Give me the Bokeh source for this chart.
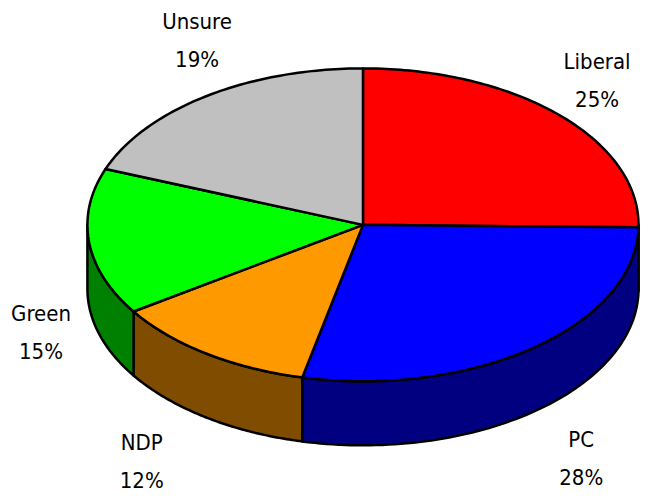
import numpy as np
from bokeh.plotting import figure
from bokeh.models import Range1d, ColumnDataSource
from bokeh.core.properties import value
from bokeh.embed import file_html
from bokeh.resources import INLINE

# ---- data ----
categories = ["Liberal", "PC", "NDP", "Green", "Unsure"]
shares = [25, 28, 12, 15, 19]
top_colors = ["#FF0000", "#0000FF", "#FF9900", "#00FF00", "#C0C0C0"]
side_colors = ["#800000", "#000080", "#804C00", "#008000", "#606060"]

# ---- layout (reference pixel units) ----
W, H = 641, 492            # figure size
VW, VH = 649, 500          # drawing coordinate extent
CX, CY, RX, RY, DEPTH = 367, 228, 279, 159, 65
label_pos = {"Liberal": (604, 62), "PC": (588, 446), "NDP": (143, 449),
             "Green": (41, 318), "Unsure": (199, 21)}
LINE_GAP = 39
FONT = "DejaVu Sans Condensed"

p = figure(width=W, height=H, output_backend="svg", toolbar_location=None,
           x_range=Range1d(0, VW), y_range=Range1d(VH, 0),
           min_border=0, outline_line_color=None)
p.axis.visible = False
p.grid.visible = False


def ell(t, dy=0.0):
    return CX + RX * np.cos(t), CY - RY * np.sin(t) + dy


total = float(sum(shares))
starts = []
ends = []
a = np.pi / 2
for v in shares:
    b = a - 2 * np.pi * v / total
    starts.append(a)
    ends.append(b)
    a = b

# side faces (front half: angles in [-pi, 0])
side_xs, side_ys, side_c = [], [], []
for a0, a1, c in zip(starts, ends, side_colors):
    hi = min(a0, 0.0)
    lo = max(a1, -np.pi)
    if hi <= lo:
        continue
    t = np.linspace(hi, lo, 80)
    x1, y1 = ell(t)
    x2, y2 = ell(t[::-1], DEPTH)
    side_xs.append(list(np.concatenate([x1, x2])))
    side_ys.append(list(np.concatenate([y1, y2])))
    side_c.append(c)
p.patches(side_xs, side_ys, fill_color=side_c, line_color="black", line_width=2.5,
          line_join="round")

# top slices
top_xs, top_ys = [], []
for a0, a1 in zip(starts, ends):
    n = max(8, int(abs(a0 - a1) * 60))
    t = np.linspace(a0, a1, n)
    x, y = ell(t)
    top_xs.append([CX] + list(x))
    top_ys.append([CY] + list(y))
p.patches(top_xs, top_ys, fill_color=top_colors, line_color="black", line_width=2.5,
          line_join="round")

# labels
lx = [label_pos[c][0] for c in categories]
ly = [label_pos[c][1] for c in categories]
src = ColumnDataSource(dict(x=lx, y=ly, y2=[y + LINE_GAP for y in ly],
                            name=categories, pct=[f"{v}%" for v in shares]))
for col, ycol in (("name", "y"), ("pct", "y2")):
    p.text(x="x", y=ycol, text=col, source=src, text_font=value(FONT),
           text_font_size="22px", text_align="center", text_baseline="middle",
           text_color="black")

open("out.html", "w").write(file_html(p, INLINE))
